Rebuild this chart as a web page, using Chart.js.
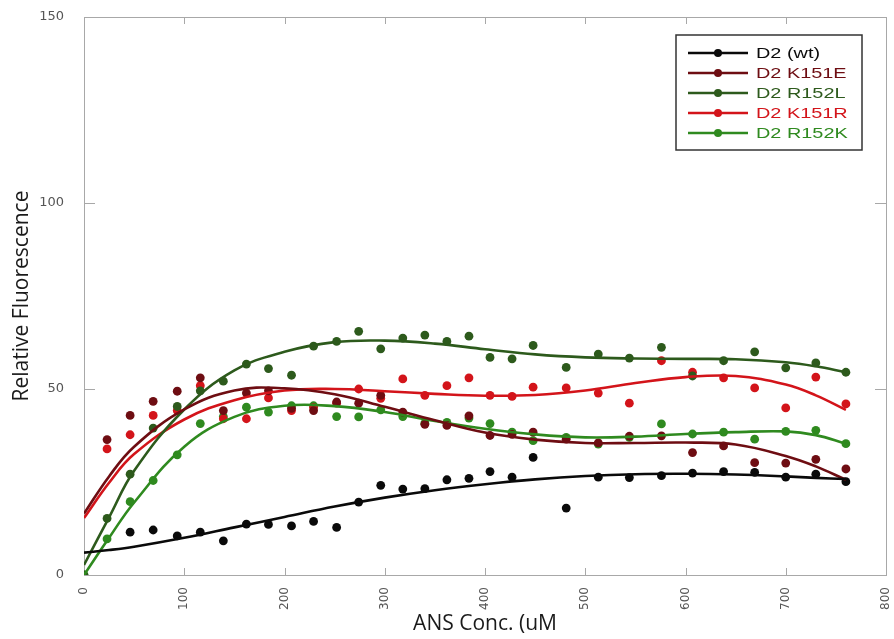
<!DOCTYPE html>
<html>
<head>
<meta charset="utf-8">
<script src="https://cdn.jsdelivr.net/npm/chart.js@4.4.1/dist/chart.umd.min.js"></script>
<style>
  html, body { margin: 0; padding: 0; background: #fff; }
  #wrap { width: 894px; height: 639px; position: relative; }
</style>
</head>
<body>
<div id="wrap"><canvas id="chart"></canvas></div>
<script>
// ANS concentration (uM) for the measured points
const xConc = [0, 23, 46, 69, 93, 116, 139, 162, 184, 207, 229, 252, 274, 296, 318, 340,
  362, 384, 405, 427, 448, 481, 513, 544, 576, 607, 638, 669, 700, 730, 760];

const seriesNames = ['D2 (wt)', 'D2 K151E', 'D2 R152L', 'D2 K151R', 'D2 R152K'];
const seriesColors = ['#0a0a0a', '#6e0d12', '#2d5a1c', '#d3141a', '#2f8a1f'];

const wtVals = [null, null, 11.5, 12.1, 10.5, 11.5, 9.2, 13.7, 13.6, 13.2, 14.4, 12.8, 19.6, 24.1, 23.1, 23.2,
  25.6, 26.0, 27.8, 26.3, 31.6, 18.0, 26.3, 26.2, 26.7, 27.4, 27.8, 27.6, 26.3, 27.1, 25.1];
const k151eVals = [null, 36.4, 42.9, 46.7, 49.4, 53.0, 44.2, 48.9, 49.5, 44.8, 44.2, 46.5, 46.2, 48.3, 43.8, 40.5,
  40.2, 42.8, 37.5, 37.8, 38.4, 36.5, 35.5, 37.3, 37.4, 32.9, 34.7, 30.2, 30.1, 31.1, 28.5];
const r152lVals = [0, 15.2, 27.1, 39.5, 45.3, 49.5, 52.1, 56.7, 55.5, 53.7, 61.5, 62.8, 65.5, 60.8, 63.7, 64.5,
  62.8, 64.2, 58.5, 58.1, 61.7, 55.8, 59.4, 58.3, 61.2, 53.5, 57.6, 60.0, 55.7, 57.0, 54.5];
const k151rVals = [null, 33.9, 37.7, 42.9, 44.2, 50.9, 42.0, 42.0, 47.6, 44.2, 45.0, 46.2, 50.0, 47.5, 52.7, 48.3,
  50.9, 53.0, 48.3, 48.0, 50.5, 50.3, 48.9, 46.2, 57.6, 54.5, 53.0, 50.3, 44.9, 53.2, 46.0];
const r152kVals = [0, 9.7, 19.7, 25.4, 32.3, 40.7, 42.6, 45.1, 43.8, 45.5, 45.5, 42.6, 42.5, 44.4, 42.6, 40.8,
  41.0, 42.2, 40.7, 38.4, 36.1, 37.0, 35.2, 37.0, 40.6, 37.9, 38.4, 36.5, 38.6, 38.9, 35.3];

// fitted curves
const fitX = [0, 25, 50, 100, 150, 200, 250, 300, 350, 400, 450, 500, 550, 600, 650, 700, 730, 760];
const wtFit = [6.0, 6.7, 7.6, 10.0, 12.8, 15.6, 18.4, 20.8, 22.8, 24.4, 25.7, 26.6, 27.1, 27.2, 27.0, 26.5, 26.1, 25.8];
const k151eFit = [16.5, 26.5, 34.5, 44.5, 49.6, 50.2, 48.6, 45.2, 41.6, 38.3, 36.4, 35.5, 35.5, 35.6, 35.1, 32.0, 29.2, 25.6];
const r152lFit = [2.7, 15.5, 28.0, 44.5, 55.0, 60.0, 62.6, 63.0, 62.2, 60.7, 59.3, 58.5, 58.2, 58.1, 58.0, 57.2, 56.1, 54.5];
const k151rFit = [15.3, 24.8, 32.5, 41.8, 47.0, 49.6, 50.0, 49.4, 48.7, 48.2, 48.4, 49.6, 51.6, 53.2, 53.5, 51.2, 48.3, 44.4];
const r152kFit = [0, 10.0, 19.5, 34.5, 42.5, 45.5, 45.4, 43.8, 41.4, 39.3, 37.8, 37.0, 37.2, 37.9, 38.4, 38.6, 37.6, 35.3];

const xTicks = [0, 100, 200, 300, 400, 500, 600, 700, 800];
const yTicks = [0, 50, 100, 150];

const pointSets = [wtVals, k151eVals, r152lVals, k151rVals, r152kVals];
const fitSets = [wtFit, k151eFit, r152lFit, k151rFit, r152kFit];

const datasets = [];
fitSets.forEach((fit, i) => {
    datasets.push({
        label: seriesNames[i] + ' fit',
        data: fitX.map((x, j) => ({ x, y: fit[j] })),
        showLine: true,
        borderColor: seriesColors[i],
        borderWidth: 2.6,
        pointRadius: 0,
        tension: 0.4,
        order: 1
    });
});
pointSets.forEach((vals, i) => {
    datasets.push({
        label: seriesNames[i],
        data: xConc.map((x, j) => ({ x, y: vals[j] })).filter(p => p.y !== null),
        showLine: false,
        backgroundColor: seriesColors[i],
        borderColor: seriesColors[i],
        pointRadius: 4.4,
        borderWidth: 0,
        order: 2
    });
});

// frame round the plot with inward ticks on all four sides
const framePlugin = {
    id: 'frame',
    beforeDatasetsDraw(chart) {
        const { ctx, chartArea: a, scales } = chart;
        ctx.save();
        ctx.strokeStyle = '#a8a8a8';
        ctx.lineWidth = 1;
        ctx.strokeRect(a.left + 0.5, a.top + 0.5, a.right - a.left, a.bottom - a.top);
        ctx.beginPath();
        xTicks.forEach(v => {
            const px = Math.round(scales.x.getPixelForValue(v)) + 0.5;
            ctx.moveTo(px, a.bottom); ctx.lineTo(px, a.bottom - 7);
            ctx.moveTo(px, a.top); ctx.lineTo(px, a.top + 7);
        });
        yTicks.forEach(v => {
            const py = Math.round(scales.y.getPixelForValue(v)) + 0.5;
            ctx.moveTo(a.left, py); ctx.lineTo(a.left + 11, py);
            ctx.moveTo(a.right, py); ctx.lineTo(a.right - 11, py);
        });
        ctx.stroke();
        ctx.restore();
    }
};

// legend box in the top right corner (text is drawn a bit stretched, like the original)
const legendPlugin = {
    id: 'boxLegend',
    afterDraw(chart) {
        const ctx = chart.ctx;
        const bx = 676, by = 35, bw = 186, bh = 115;
        ctx.save();
        ctx.fillStyle = '#fff';
        ctx.fillRect(bx, by, bw, bh);
        ctx.strokeStyle = '#333';
        ctx.lineWidth = 1.5;
        ctx.strokeRect(bx, by, bw, bh);
        ctx.font = '14px "Liberation Sans", Arial, sans-serif';
        ctx.textBaseline = 'middle';
        seriesNames.forEach((name, i) => {
            const y = 53 + i * 20;
            ctx.strokeStyle = seriesColors[i];
            ctx.lineWidth = 2.4;
            ctx.beginPath();
            ctx.moveTo(688, y); ctx.lineTo(748, y);
            ctx.stroke();
            ctx.fillStyle = seriesColors[i];
            ctx.beginPath();
            ctx.arc(718, y, 4, 0, Math.PI * 2);
            ctx.fill();
            ctx.save();
            ctx.translate(756, y + 1);
            ctx.scale(1.42, 1);
            ctx.fillText(name, 0, 0);
            ctx.restore();
        });
        ctx.restore();
    }
};

new Chart(document.getElementById('chart'), {
    type: 'scatter',
    data: { datasets },
    plugins: [framePlugin, legendPlugin],
    options: {
        responsive: true,
        maintainAspectRatio: false,
        animation: false,
        layout: { padding: { top: 17, right: 8, left: 0, bottom: 0 } },
        plugins: {
            legend: { display: false },
            tooltip: { enabled: false }
        },
        scales: {
            x: {
                type: 'linear',
                min: 0,
                max: 800,
                afterFit: s => { s.height = 64; s.paddingLeft = 0; s.paddingRight = 0; },
                afterBuildTicks: s => { s.ticks = xTicks.map(v => ({ value: v })); },
                grid: { display: false, drawTicks: false },
                border: { display: false },
                ticks: {
                    minRotation: 90,
                    maxRotation: 90,
                    padding: 12,
                    color: '#555',
                    font: { family: '"DejaVu Sans", sans-serif', size: 12 }
                },
                title: {
                    display: true,
                    text: 'ANS Conc. (uM',
                    color: '#1a1a1a',
                    padding: { top: 0, bottom: 2 },
                    font: { family: '"Open Sans", sans-serif', size: 21 }
                }
            },
            y: {
                min: 0,
                max: 150,
                afterFit: s => { s.width = 84; s.paddingTop = 0; s.paddingBottom = 0; },
                afterBuildTicks: s => { s.ticks = yTicks.map(v => ({ value: v })); },
                grid: { display: false, drawTicks: false },
                border: { display: false },
                ticks: {
                    padding: 20,
                    color: '#555',
                    font: { family: '"DejaVu Sans", sans-serif', size: 13 }
                },
                title: {
                    display: true,
                    text: 'Relative Fluorescence',
                    color: '#1a1a1a',
                    padding: { top: 9, bottom: 0 },
                    font: { family: '"Open Sans", sans-serif', size: 21 }
                }
            }
        }
    }
});
</script>
</body>
</html>
